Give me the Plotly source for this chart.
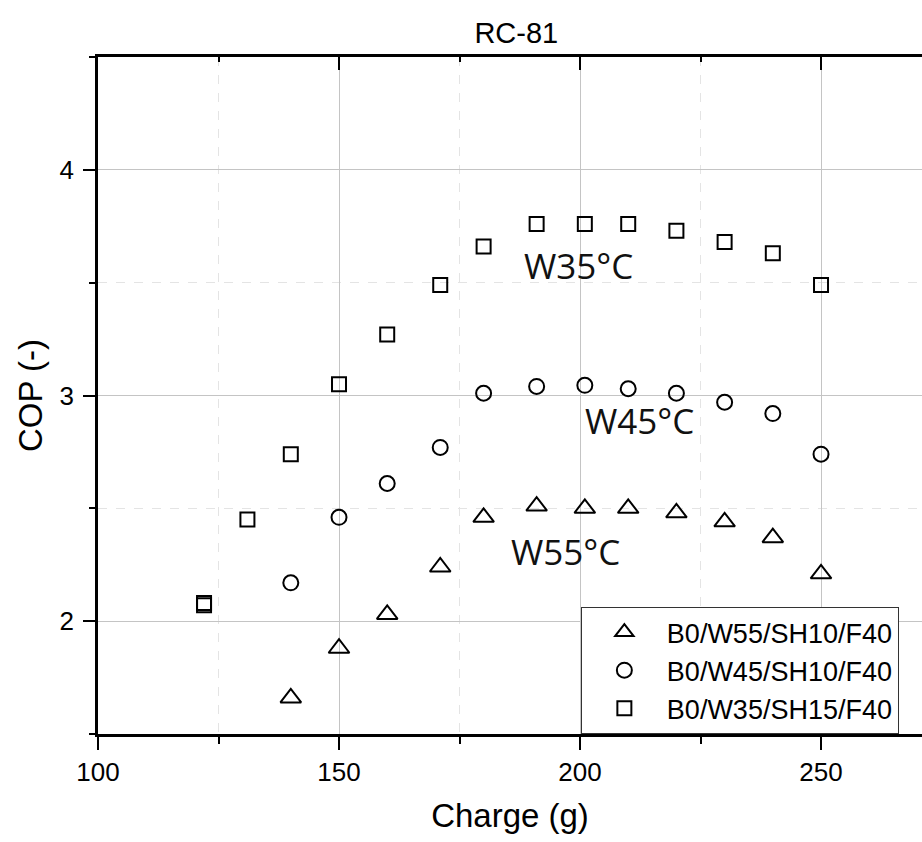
import plotly.graph_objects as go

# ---- data ----
charge_w55 = [140, 150, 160, 171, 180, 191, 201, 210, 220, 230, 240, 250]
cop_w55 = [1.66, 1.88, 2.03, 2.24, 2.46, 2.51, 2.50, 2.50, 2.48, 2.44, 2.37, 2.21]

charge_w45 = [140, 150, 160, 171, 180, 191, 201, 210, 220, 230, 240, 250]
cop_w45 = [2.17, 2.46, 2.61, 2.77, 3.01, 3.04, 3.045, 3.03, 3.01, 2.97, 2.92, 2.74]

charge_w35 = [122, 122, 131, 140, 150, 160, 171, 180, 191, 201, 210, 220, 230, 240, 250]
cop_w35 = [2.07, 2.08, 2.45, 2.74, 3.05, 3.27, 3.49, 3.66, 3.76, 3.76, 3.76, 3.73, 3.68, 3.63, 3.49]

legend_names = ["B0/W55/SH10/F40", "B0/W45/SH10/F40", "B0/W35/SH15/F40"]
label_texts = ["W35°C", "W45°C", "W55°C"]
label_x = [199.6, 212.4, 196.9]
label_y = [3.578, 2.889, 2.31]

x_range = [100, 270.95]
y_range = [1.5, 4.5]

AX_FONT = "Liberation Sans, Arial, sans-serif"

fig = go.Figure()

series = [
    (charge_w55, cop_w55, "triangle-up-open", 18, legend_names[0]),
    (charge_w45, cop_w45, "circle-open", 15, legend_names[1]),
    (charge_w35, cop_w35, "square-open", 14, legend_names[2]),
]
for i, (xs, ys, sym, sz, name) in enumerate(series):
    fig.add_trace(go.Scatter(
        x=xs, y=ys, mode="markers", name=name, legendgroup=f"g{i}",
        marker=dict(symbol=sym, size=sz, color="black",
                    line=dict(color="black", width=2)),
    ))

# invisible helper trace so the mirrored top axis is drawn
fig.add_trace(go.Scatter(x=charge_w35, y=cop_w35, xaxis="x2", mode="markers",
                         marker=dict(opacity=0), showlegend=False, hoverinfo="skip"))

for t, lx, ly in zip(label_texts, label_x, label_y):
    fig.add_annotation(x=lx, y=ly, text=t, showarrow=False,
                       font=dict(family="Open Sans, sans-serif", size=35, color="#111"),
                       xanchor="center", yanchor="middle")

fig.update_layout(
    width=922, height=842,
    margin=dict(l=98, r=0, t=57, b=108),
    paper_bgcolor="white", plot_bgcolor="white",
    font=dict(family=AX_FONT, color="black"),
    title=dict(text="RC-81", x=0.56, xref="container", xanchor="center",
               y=0.961, yref="container", yanchor="middle",
               font=dict(family=AX_FONT, size=29, color="black")),
    showlegend=True,
    legend=dict(x=0.586, y=0.1876, xanchor="left", yanchor="top",
                bgcolor="white", bordercolor="#333", borderwidth=1,
                font=dict(family=AX_FONT, size=27, color="black"),
                tracegroupgap=0, itemsizing="trace", itemwidth=75),
    xaxis=dict(
        range=x_range, tick0=100, dtick=50,
        showline=True, linewidth=2.5, linecolor="black",
        ticks="outside", ticklen=13, tickwidth=2, tickcolor="black",
        showgrid=True, gridcolor="#c4c4c4", gridwidth=1,
        zeroline=False,
        tickfont=dict(family=AX_FONT, size=26, color="black"),
        ticklabelstandoff=0,
        title=dict(text="Charge (g)", font=dict(family=AX_FONT, size=33, color="black"), standoff=18),
        minor=dict(dtick=25, tick0=100, ticks="outside", ticklen=7, tickwidth=2, tickcolor="black",
                   showgrid=True, gridcolor="#e4e4e4", griddash="dash", gridwidth=1),
    ),
    xaxis2=dict(
        overlaying="x", side="top", matches="x", range=x_range,
        tick0=100, dtick=50,
        showline=True, linewidth=2.5, linecolor="black",
        ticks="inside", ticklen=13, tickwidth=2, tickcolor="black",
        showticklabels=False, showgrid=False, zeroline=False,
        minor=dict(dtick=25, tick0=100, ticks="inside", ticklen=5, tickwidth=2, tickcolor="black",
                   showgrid=False),
    ),
    yaxis=dict(
        range=y_range, tick0=2, dtick=1,
        showline=True, linewidth=2.5, linecolor="black",
        ticks="outside", ticklen=12, tickwidth=2, tickcolor="black",
        showgrid=True, gridcolor="#c4c4c4", gridwidth=1,
        zeroline=False,
        tickfont=dict(family=AX_FONT, size=26, color="black"),
        ticklabelstandoff=4,
        title=dict(text="COP (-)", font=dict(family=AX_FONT, size=33, color="black"), standoff=8),
        minor=dict(dtick=0.5, tick0=2, ticks="outside", ticklen=6, tickwidth=2, tickcolor="black",
                   showgrid=True, gridcolor="#e4e4e4", griddash="dash", gridwidth=1),
    ),
)

fig.write_html("out.html")
